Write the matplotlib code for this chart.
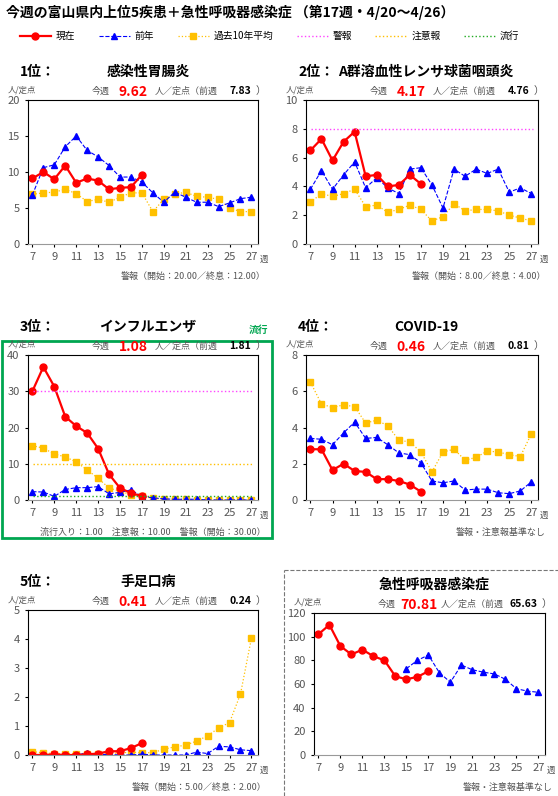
import numpy as np
import matplotlib
matplotlib.use("Agg")
import matplotlib.pyplot as plt
from matplotlib.lines import Line2D
from matplotlib.patches import Rectangle

plt.rcParams['font.family'] = ['Noto Sans CJK JP', 'DejaVu Sans']

weeks = np.arange(7, 28)
cur_weeks = np.arange(7, 18)

# 1位 感染性胃腸炎
gastro_cur = [9.1, 10.0, 9.0, 10.9, 8.5, 9.1, 8.8, 7.6, 7.8, 7.9, 9.62]
gastro_prev = [6.8, 10.6, 11.0, 13.5, 15.0, 13.0, 12.1, 10.9, 9.3, 9.3, 8.6, 7.1, 5.8, 7.2, 6.5, 5.8, 5.8, 5.2, 5.7, 6.3, 6.5]
gastro_avg = [6.9, 7.1, 7.2, 7.6, 7.0, 5.9, 6.2, 5.8, 6.5, 7.1, 7.1, 4.5, 6.2, 6.9, 7.2, 6.6, 6.5, 6.2, 5.0, 4.5, 4.5]

# 2位 A群溶血性レンサ球菌咽頭炎
strep_cur = [6.5, 7.3, 5.8, 7.1, 7.8, 4.7, 4.8, 4.0, 4.1, 4.8, 4.17]
strep_prev = [3.8, 5.1, 3.8, 4.8, 5.7, 3.9, 4.6, 3.9, 3.5, 5.2, 5.3, 4.1, 2.5, 5.2, 4.7, 5.2, 4.9, 5.2, 3.6, 3.9, 3.5]
strep_avg = [2.9, 3.5, 3.3, 3.5, 3.8, 2.6, 2.7, 2.2, 2.4, 2.7, 2.4, 1.6, 1.9, 2.8, 2.3, 2.4, 2.4, 2.3, 2.0, 1.8, 1.6]

# 3位 インフルエンザ
flu_cur = [30.0, 36.7, 31.3, 23.0, 20.4, 18.5, 14.2, 7.1, 3.3, 1.9, 1.08]
flu_prev = [2.3, 2.2, 1.0, 2.9, 3.4, 3.4, 3.7, 1.7, 2.1, 2.8, 1.0, 0.6, 0.3, 0.2, 0.2, 0.2, 0.0, 0.0, 0.0, 0.0, 0.0]
flu_avg = [15.0, 14.3, 12.7, 11.9, 10.5, 8.3, 6.0, 3.3, 2.4, 1.5, 1.0, 0.5, 0.3, 0.2, 0.2, 0.1, 0.1, 0.1, 0.1, 0.1, 0.1]

# 4位 COVID-19
covid_cur = [2.8, 2.8, 1.65, 2.0, 1.6, 1.55, 1.15, 1.15, 1.05, 0.85, 0.46]
covid_prev = [3.4, 3.35, 3.05, 3.7, 4.3, 3.4, 3.45, 3.05, 2.6, 2.5, 2.05, 1.05, 0.95, 1.05, 0.55, 0.6, 0.6, 0.4, 0.35, 0.5, 1.0]
covid_avg = [6.5, 5.3, 5.1, 5.25, 5.15, 4.25, 4.4, 4.1, 3.3, 3.2, 2.65, 1.55, 2.65, 2.8, 2.2, 2.35, 2.7, 2.65, 2.5, 2.4, 3.65]

# 5位 手足口病
hfmd_cur = [0.0, 0.0, 0.02, 0.0, 0.0, 0.02, 0.05, 0.13, 0.13, 0.24, 0.41]
hfmd_prev = [0, 0, 0, 0, 0, 0.07, 0.02, 0.02, 0, 0, 0.03, 0, 0, 0, 0, 0.1, 0.05, 0.3, 0.28, 0.18, 0.15]
hfmd_avg = [0.12, 0.07, 0.05, 0.05, 0.05, 0.05, 0.05, 0.05, 0.07, 0.1, 0.08, 0.08, 0.2, 0.28, 0.34, 0.48, 0.66, 0.93, 1.12, 2.1, 4.03]

# 急性呼吸器感染症
ari_cur = [102, 110, 92, 85, 89, 83.5, 80, 66.5, 64, 66, 70.81]
ari_prev_weeks = np.arange(15, 28)
ari_prev = [73, 80, 84.5, 69.5, 61.5, 76, 72, 70, 68.5, 64, 56, 54, 53]

W, H = 558, 796
fig = plt.figure(figsize=(W / 100, H / 100), dpi=100)

RED = '#ff0000'
BLUE = '#0000ff'
ORANGE = '#ffc000'
MAGENTA = '#ff44ff'
GREEN = '#22aa22'
GREY = '#555555'


def px_axes(x0, y0, x1, y1):
    return fig.add_axes([x0 / W, 1 - y1 / H, (x1 - x0) / W, (y1 - y0) / H])


def ftext(x, y, s, **kw):
    fig.text(x / W, 1 - y / H, s, **kw)


def draw_panel(box, ymax, ystep, cur, prev, avg, rank, name, now, last, note,
               prev_weeks=weeks, alarm=None, caution=None, epidemic=None):
    x0, y0, x1, y1 = box
    ax = px_axes(x0, y0, x1, y1)
    if avg is not None:
        ax.plot(weeks, avg, color=ORANGE, ls=':', lw=0.9, marker='s', ms=4)
    ax.plot(prev_weeks, prev, color=BLUE, ls='--', lw=0.8, marker='^', ms=4.5)
    ax.plot(cur_weeks, cur, color=RED, lw=1.6, marker='o', ms=5)
    if alarm is not None:
        ax.axhline(alarm, xmin=0.02, xmax=0.98, color=MAGENTA, ls=':', lw=1)
    if caution is not None:
        ax.axhline(caution, xmin=0.02, xmax=0.98, color=ORANGE, ls=':', lw=1)
    if epidemic is not None:
        ax.axhline(epidemic, xmin=0.02, xmax=0.98, color=GREEN, ls=':', lw=1)
    ax.set_xlim(6.6, 27.6)
    ax.set_ylim(0, ymax)
    ax.set_xticks(range(7, 28, 2))
    ax.set_yticks(np.arange(0, ymax + 0.001, ystep))
    ax.tick_params(labelsize=8, colors=GREY, length=2, pad=4)
    ax.tick_params(axis='both', color='black')
    for s in ax.spines.values():
        s.set_linewidth(0.8)
    ax.spines['bottom'].set_color('#999999')
    ftext(x1 + 2, y1 + 18, '週', fontsize=6, color=GREY)
    ftext(x0 - 20, y0 - 8, '人/定点', fontsize=6, color=GREY)
    ftext(x0 + 64, y0 - 6, '今週', fontsize=6.5, color=GREY)
    ftext(x0 + 105, y0 - 4, now, fontsize=10, color=RED, weight='bold', ha='center')
    ftext(x0 + 127, y0 - 6, '人／定点（前週', fontsize=6.5, color=GREY)
    ftext(x0 + 223, y0 - 6, last, fontsize=7.5, color='black', weight='bold', ha='right')
    ftext(x0 + 238, y0 - 6, '）', fontsize=7.5, color=GREY, ha='right')
    if rank:
        ftext(x0 - 8, y0 - 24, rank, fontsize=10, weight='bold')
    ftext(x0 + 120, y0 - 24, name, fontsize=10, weight='bold', ha='center')
    ftext(x1 + 8, y1 + 35, note, fontsize=6.5, color=GREY, ha='right')
    return ax


ftext(6, 17, '今週の富山県内上位5疾患＋急性呼吸器感染症 （第17週・4/20～4/26）',
      fontsize=10, weight='bold')

handles = [
    Line2D([], [], color=RED, lw=1.6, marker='o', ms=5),
    Line2D([], [], color=BLUE, ls='--', lw=0.8, marker='^', ms=4.5),
    Line2D([], [], color=ORANGE, ls=':', lw=0.9, marker='s', ms=4),
    Line2D([], [], color=MAGENTA, ls=':', lw=1),
    Line2D([], [], color=ORANGE, ls=':', lw=1),
    Line2D([], [], color=GREEN, ls=':', lw=1),
]
labels = ['現在', '前年', '過去10年平均', '警報', '注意報', '流行']
fig.legend(handles, labels, loc='center left', bbox_to_anchor=(0.02, 1 - 36 / H),
           ncol=6, frameon=False, fontsize=7, handlelength=3.2, columnspacing=2.4,
           handletextpad=0.5)

draw_panel((28, 100, 258, 244), 20, 5, gastro_cur, gastro_prev, gastro_avg,
           '1位：', '感染性胃腸炎', '9.62', '7.83', '警報（開始：20.00／終息：12.00）')
draw_panel((306, 100, 538, 244), 10, 2, strep_cur, strep_prev, strep_avg,
           '2位：', 'A群溶血性レンサ球菌咽頭炎', '4.17', '4.76', '警報（開始：8.00／終息：4.00）',
           alarm=8)
draw_panel((28, 355, 258, 500), 40, 10, flu_cur, flu_prev, flu_avg,
           '3位：', 'インフルエンザ', '1.08', '1.81', '流行入り：1.00　注意報：10.00　警報（開始：30.00）',
           alarm=30, caution=10, epidemic=1)
draw_panel((306, 355, 538, 500), 8, 2, covid_cur, covid_prev, covid_avg,
           '4位：', 'COVID-19', '0.46', '0.81', '警報・注意報基準なし')
draw_panel((28, 610, 258, 755), 5, 1, hfmd_cur, hfmd_prev, hfmd_avg,
           '5位：', '手足口病', '0.41', '0.24', '警報（開始：5.00／終息：2.00）')
draw_panel((314, 613, 545, 755), 120, 20, ari_cur, ari_prev, None,
           '', '急性呼吸器感染症', '70.81', '65.63', '警報・注意報基準なし',
           prev_weeks=ari_prev_weeks)

# green frame around influenza panel
fig.patches.append(Rectangle((2 / W, 1 - 538 / H), 270 / W, 197 / H, transform=fig.transFigure,
                             fill=False, edgecolor='#00a650', lw=2))
ftext(258, 333, '流行', fontsize=7, color='#00a650', weight='bold', ha='center')

# dashed frame for ARI
fig.add_artist(Line2D([284 / W, 284 / W], [0, 1 - 570 / H], transform=fig.transFigure,
                      color='#777777', ls='--', lw=0.8))
fig.add_artist(Line2D([284 / W, 1], [1 - 570 / H, 1 - 570 / H], transform=fig.transFigure,
                      color='#777777', ls='--', lw=0.8))

fig.savefig('out.png', dpi=100)
